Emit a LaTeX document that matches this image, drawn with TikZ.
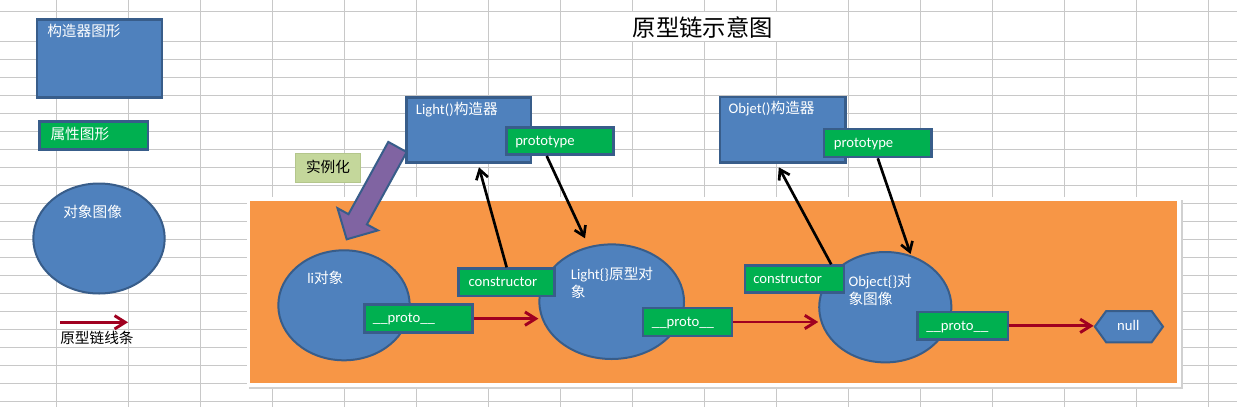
\documentclass[tikz,border=0pt]{standalone}
\usepackage{fontspec}
\setmainfont{Carlito}
\newfontfamily\cjk{Noto Sans CJK SC}
\usetikzlibrary{arrows.meta,calc,shapes.geometric,shapes.symbols}
\newlength\px \setlength\px{0.75pt}
\newcommand\myzh[1]{{\cjk #1}}
\definecolor{boxblue}{RGB}{79,129,189}
\definecolor{edgeblue}{RGB}{56,93,138}
\definecolor{attgreen}{RGB}{0,176,80}
\definecolor{panelorange}{RGB}{247,150,70}
\definecolor{instpurple}{RGB}{128,100,162}
\definecolor{instfill}{RGB}{196,215,155}
\definecolor{instedge}{RGB}{180,198,140}
\definecolor{chainred}{RGB}{160,0,32}
\definecolor{gridgray}{RGB}{200,200,200}
\tikzset{
  gridline/.style={draw=gridgray, line width=0.75pt},
  sz/.style 2 args={minimum width=#1\px, minimum height=#2\px},
  ctor/.style={rectangle, draw=edgeblue, fill=boxblue, line width=2pt, inner sep=0pt},
  attr/.style={rectangle, draw=edgeblue, fill=attgreen, line width=2pt, inner sep=0pt},
  objshape/.style={ellipse, draw=edgeblue, fill=boxblue, line width=1.5pt, inner sep=0pt},
  wtxt/.style={text=white, inner sep=0pt, anchor=west, font=\fontsize{11}{13}\selectfont, text height=8.5pt, text depth=1.5pt},
  ktxt/.style={wtxt, text=black},
  blackarrow/.style={draw=black, line width=2pt, -{Straight Barb[length=7pt,width=9pt]}},
  redarrow/.style={draw=chainred, line width=2.2pt, -{Straight Barb[length=8pt,width=10pt]}},
}
\begin{document}
\begin{tikzpicture}[x=0.75pt,y=-0.75pt]
\useasboundingbox (0,0) rectangle (1237,407);
\fill[white] (0,0) rectangle (1237,407);
% spreadsheet grid
\foreach \x in {56,128,...,1208} \draw[gridline] (\x,0) -- (\x,407);
\draw[gridline] (0,11.7) -- (1237,11.7);
\foreach \k in {0,...,20} \draw[gridline] (0,{41.7+18*\k}) -- (1237,{41.7+18*\k});
\fill[white] (560.6,12.3) rectangle (847.7,41.1);
% title
\node[anchor=west, inner sep=0pt, font=\cjk\fontsize{17.5}{20}\selectfont] (title) at (632.7,28) {原型链示意图};

% legend
\node[ctor, sz={124.9}{78}] (cbox) at (99.5,58.65) {};
\node[wtxt] (cboxt) at (47,32.3) {\myzh{构造器图形}};
\node[attr, sz={108.3}{28}] (pbox) at (93.8,135.65) {};
\node[wtxt] (pboxt) at (50.3,135) {\myzh{属性图形}};
\node[objshape, sz={131.4}{110}] (ebox) at (99,238.5) {};
\node[wtxt] (eboxt) at (63,213.3) {\myzh{对象图像}};
\coordinate (legA) at (60,322.3);
\coordinate (legB) at (128,322.3);
\draw[redarrow] (legA) -- (legB);
\node[ktxt] (legt) at (60,339.3) {\myzh{原型链线条}};

% panel
\fill[black!18] (248.5,199.5) rectangle (1182.5,389);
\fill[white] (246.5,197.3) rectangle (1180.5,386.7);
\fill[panelorange] (250,200.7) rectangle (1177,383.3);

% instantiate
\node[rectangle, draw=instedge, fill=instfill, line width=0.75pt, sz={64.4}{29}, inner sep=0pt] (inst) at (328,168.3) {};
\node[ktxt, anchor=center] (instt) at (328,168.3) {\myzh{实例化}};
\draw[fill=instpurple, draw=edgeblue, line width=1.5pt, line join=miter]
  (388.3,141.9) -- (406.7,152.1) -- (366.9,224.4) -- (377.9,230.4) -- (346.7,239.3) -- (337.5,208.2) -- (348.5,214.2) -- cycle;

% constructors
\node[ctor, sz={124.6}{65.3}] (lbox) at (468.65,130) {};
\node[wtxt] (lboxt) at (415.7,110) {Light()\myzh{构造器}};
\node[attr, sz={107.3}{27.3}] (lproto) at (560,141) {};
\node[wtxt] (lprotot) at (515,141) {prototype};
\node[ctor, sz={125.1}{65.6}] (obox) at (782.7,129.85) {};
\node[wtxt] (oboxt) at (728.4,109.3) {Objet()\myzh{构造器}};
\node[attr, sz={107.6}{27.9}] (oproto) at (877.75,143) {};
\node[wtxt] (oprotot) at (833.6,142.7) {prototype};

% objects
\node[objshape, sz={131.4}{110}] (liobj) at (344,305.3) {};
\node[wtxt] (liobjt) at (307,279.3) {li\myzh{对象}};
\node[objshape, sz={144.6}{114.6}] (lobj) at (611.7,301.7) {};
\node[wtxt] (lobjt) at (570.7,275) {Light\{\}\myzh{原型对}};
\node[wtxt] (lobjt2) at (570.7,293.3) {\myzh{象}};
\node[objshape, sz={132.2}{110.4}] (oobj) at (885.3,307.2) {};
\node[wtxt] (oobjt) at (848.3,282.3) {Object\{\}\myzh{对}};
\node[wtxt] (oobjt2) at (848.3,300) {\myzh{象图像}};

% attribute boxes
\node[attr, sz={108}{28}] (liproto) at (418.65,318.65) {};
\node[wtxt] (liprotot) at (372.7,317.7) {\_\_proto\_\_};
\node[attr, sz={96}{27.3}] (lcons) at (506.65,282.3) {};
\node[wtxt] (lconst) at (468.3,282.3) {constructor};
\node[attr, sz={88.9}{27.9}] (lproto2) at (687.5,322) {};
\node[wtxt] (lproto2t) at (651.7,321.7) {\_\_proto\_\_};
\node[attr, sz={99.3}{27}] (ocons) at (794.5,279.15) {};
\node[wtxt] (oconst) at (753,278.7) {constructor};
\node[attr, sz={90.1}{27.6}] (oproto2) at (962.8,325.85) {};
\node[wtxt] (oproto2t) at (926,325.7) {\_\_proto\_\_};
\node[signal, signal to=west and east, signal pointer angle=108, draw=edgeblue, fill=boxblue, line width=1.5pt, inner sep=0pt, sz={68.2}{31.3}] (null) at (1128.9,326.65) {};
\node[wtxt, anchor=center] (nullt) at (1128.3,325.7) {null};

% connectors
\draw[blackarrow] (lcons.north) -- ($(lbox.center)+(10.35,37.3)$);
\draw[blackarrow] ($(lproto.south)+(-13.3,0)$) -- ($(lobj.center)+(-26.7,-63.4)$);
\draw[blackarrow] ($(ocons.north)+(36.7,0)$) -- ($(obox.center)+(-3.9,37.45)$);
\draw[blackarrow] (oproto.south) -- ($(oobj.center)+(25.3,-53.2)$);
\draw[redarrow] (liproto.east) -- (liproto.east -| lobj.west);
\draw[redarrow] (lproto2.east) -- (lproto2.east -| oobj.west);
\draw[redarrow] (oproto2.east) -- (oproto2.east -| null.west);
\end{tikzpicture}
\end{document}
